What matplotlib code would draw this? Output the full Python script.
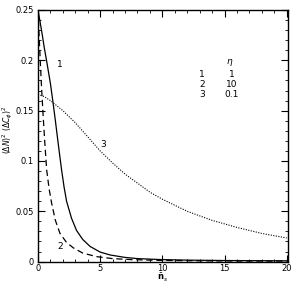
import numpy as np
import matplotlib
matplotlib.use("Agg")
import matplotlib.pyplot as plt
from matplotlib.ticker import MultipleLocator

# curve 1 (eta = 1), solid
n1 = [0, 0.2, 0.35, 0.5, 0.7, 0.85, 1.0, 1.2, 1.4, 1.65, 1.9, 2.1, 2.3, 2.7, 3.1, 3.6, 4.2, 5.0, 5.8, 7.0, 8.0, 10.0, 12.0, 15.0, 20.0]
y1 = [0.25, 0.236, 0.225, 0.213, 0.199, 0.188, 0.177, 0.159, 0.140, 0.115, 0.091, 0.074, 0.060, 0.043, 0.031, 0.022, 0.015, 0.0095, 0.0066, 0.0042, 0.0030, 0.0020, 0.0015, 0.0011, 0.0008]
# curve 2 (eta = 10), dashed
n2 = [0, 0.1, 0.2, 0.3, 0.4, 0.55, 0.7, 0.9, 1.1, 1.4, 1.77, 2.3, 2.85, 3.6, 4.7, 6.0, 7.5, 10.0, 13.0, 16.0, 20.0]
y2 = [0.25, 0.222, 0.195, 0.170, 0.148, 0.118, 0.091, 0.072, 0.058, 0.041, 0.028, 0.019, 0.0136, 0.0085, 0.0050, 0.0030, 0.0020, 0.0012, 0.0008, 0.0006, 0.0005]
# curve 3 (eta = 0.1), dotted
n3 = [0, 0.5, 1, 2, 3, 4, 5, 6, 7, 8, 9, 10, 12, 14, 16, 18, 20]
y3 = [0.166, 0.164, 0.160, 0.150, 0.138, 0.124, 0.110, 0.098, 0.087, 0.078, 0.069, 0.062, 0.050, 0.041, 0.034, 0.028, 0.0235]

curve_tags = ["1", "2", "3"]
eta_values = ["1", "10", "0.1"]

plt.rcParams["font.family"] = ["DejaVu Sans"]
fig = plt.figure(figsize=(2.99, 2.85), dpi=100)
ax = fig.add_axes([0.127, 0.082, 0.836, 0.883])

ax.plot(n1, y1, color="k", lw=0.9, ls="-")
ax.plot(n2, y2, color="k", lw=0.9, ls=(0, (5, 3)))
ax.plot(n3, y3, color="k", lw=0.8, ls=(0, (1, 1.3)))

ax.set_xlim(0, 20.1)
ax.set_ylim(0, 0.25)
ax.xaxis.set_major_locator(MultipleLocator(5))
ax.xaxis.set_minor_locator(MultipleLocator(1))
ax.yaxis.set_major_locator(MultipleLocator(0.05))
ax.yaxis.set_minor_locator(MultipleLocator(0.01))
ax.tick_params(which="both", direction="in", top=True, right=True, labelsize=6)
ax.tick_params(axis="x", pad=1.5)
ax.tick_params(axis="y", pad=3)
ax.tick_params(which="major", length=5, width=0.8)
ax.tick_params(which="minor", length=2.5, width=0.6)
for s in ax.spines.values():
    s.set_linewidth(1.0)

ax.yaxis.set_major_formatter(plt.FuncFormatter(lambda v, p: "0" if v == 0 else f"{v:g}"))
ax.xaxis.set_major_formatter(plt.FuncFormatter(lambda v, p: f"{v:g}"))

# axis titles placed by hand so they stay inside the small canvas
fig.text(162 / 299, 1 / 285, r"$\bar{\mathbf{n}}_s$", fontsize=6, ha="center", va="bottom")
fig.text(7 / 299, 1 - 130 / 285, r"$(\Delta\hat{N})^2\ (\Delta\hat{C}_\phi)^2$",
         fontsize=5.5, ha="center", va="center", rotation=90)

ax.text(1.75, 0.196, "1", fontsize=6.5, ha="center", va="center")
ax.text(5.25, 0.116, "3", fontsize=6.5, ha="center", va="center")
ax.text(1.75, 0.0155, "2", fontsize=6.5, ha="center", va="center")

ax.text(15.4, 0.1975, r"$\eta$", fontsize=6.5, ha="center", va="center")
for i, (k, e) in enumerate(zip(curve_tags, eta_values)):
    yy = 0.186 - 0.01 * i
    ax.text(13.2, yy, k, fontsize=6.5, ha="center", va="center")
    ax.text(15.6, yy, e, fontsize=6.5, ha="center", va="center")

fig.savefig("out.png", dpi=100)
